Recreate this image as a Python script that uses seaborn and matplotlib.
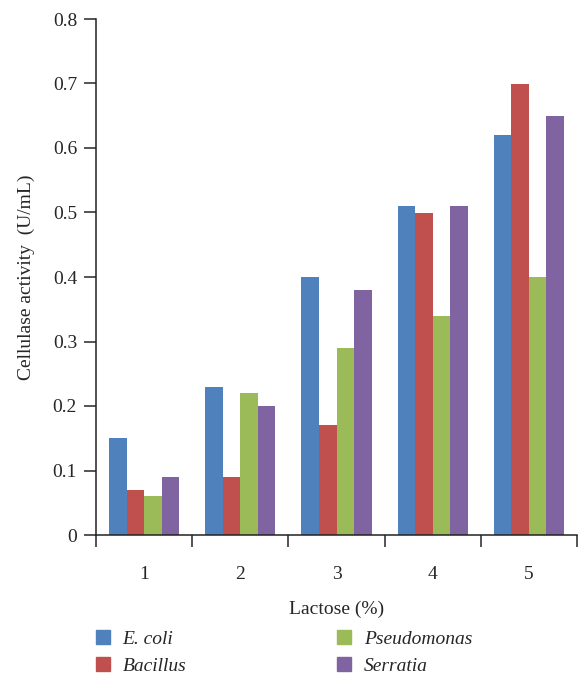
import pandas as pd
import seaborn as sns
import matplotlib.pyplot as plt
from matplotlib.ticker import MultipleLocator

# Cellulase activity by lactose concentration
lactose = ['1', '2', '3', '4', '5']
species = ['E. coli', 'Bacillus', 'Pseudomonas', 'Serratia']
ecoli = [0.15, 0.23, 0.40, 0.51, 0.62]
bacillus = [0.07, 0.09, 0.17, 0.50, 0.70]
pseudomonas = [0.06, 0.22, 0.29, 0.34, 0.40]
serratia = [0.09, 0.20, 0.38, 0.51, 0.65]
colors = ['#4F81BD', '#C0504D', '#9BBB59', '#8064A2']

df = pd.DataFrame({
    'lactose': lactose * 4,
    'species': [s for s in species for _ in lactose],
    'activity': ecoli + bacillus + pseudomonas + serratia,
})

sns.set_style('ticks')
plt.rcParams['font.family'] = ['Liberation Serif', 'DejaVu Serif']
plt.rcParams['font.size'] = 14

fig = plt.figure(figsize=(5.81, 6.77), dpi=100)
ax = fig.add_axes([96 / 581, 1 - 535 / 677, 481 / 581, 516 / 677])

sns.barplot(data=df, x='lactose', y='activity', hue='species', hue_order=species,
            palette=colors, width=0.73, gap=0, saturation=1, linewidth=0, ax=ax)

ax.set_xlim(-0.5, 4.5)
ax.set_ylim(0, 0.8)
ax.yaxis.set_major_locator(MultipleLocator(0.1))
ax.yaxis.set_major_formatter(lambda v, p: '0' if abs(v) < 1e-9 else f'{v:.1f}')
ax.set_xticks([-0.5, 0.5, 1.5, 2.5, 3.5, 4.5], minor=True)
ax.tick_params(axis='x', which='major', length=0, pad=22, labelsize=14)
ax.tick_params(axis='x', which='minor', length=8.6, width=1.1, direction='out')
ax.tick_params(axis='y', length=8.6, width=1.1, pad=5, labelsize=14)
for s in ['top', 'right']:
    ax.spines[s].set_visible(False)
for s in ['left', 'bottom']:
    ax.spines[s].set_linewidth(1.1)
    ax.spines[s].set_color('#222222')

ax.set_xlabel('Lactose (%)', fontsize=14, labelpad=13)
ax.set_ylabel('Cellulase activity  (U/mL)', fontsize=14, labelpad=13)

ax.get_legend().remove()
handles = [plt.Rectangle((0, 0), 1, 1, color=c) for c in colors]
fig.legend(handles, species, loc='upper left', bbox_to_anchor=(96 / 581, 1 - 630 / 677),
           ncol=2, frameon=False, prop={'style': 'italic', 'size': 14},
           borderpad=0, borderaxespad=0,
           handlelength=0.72, handleheight=0.72, handletextpad=0.65,
           columnspacing=7.75, labelspacing=0.5)

fig.savefig('out.png', dpi=100)
